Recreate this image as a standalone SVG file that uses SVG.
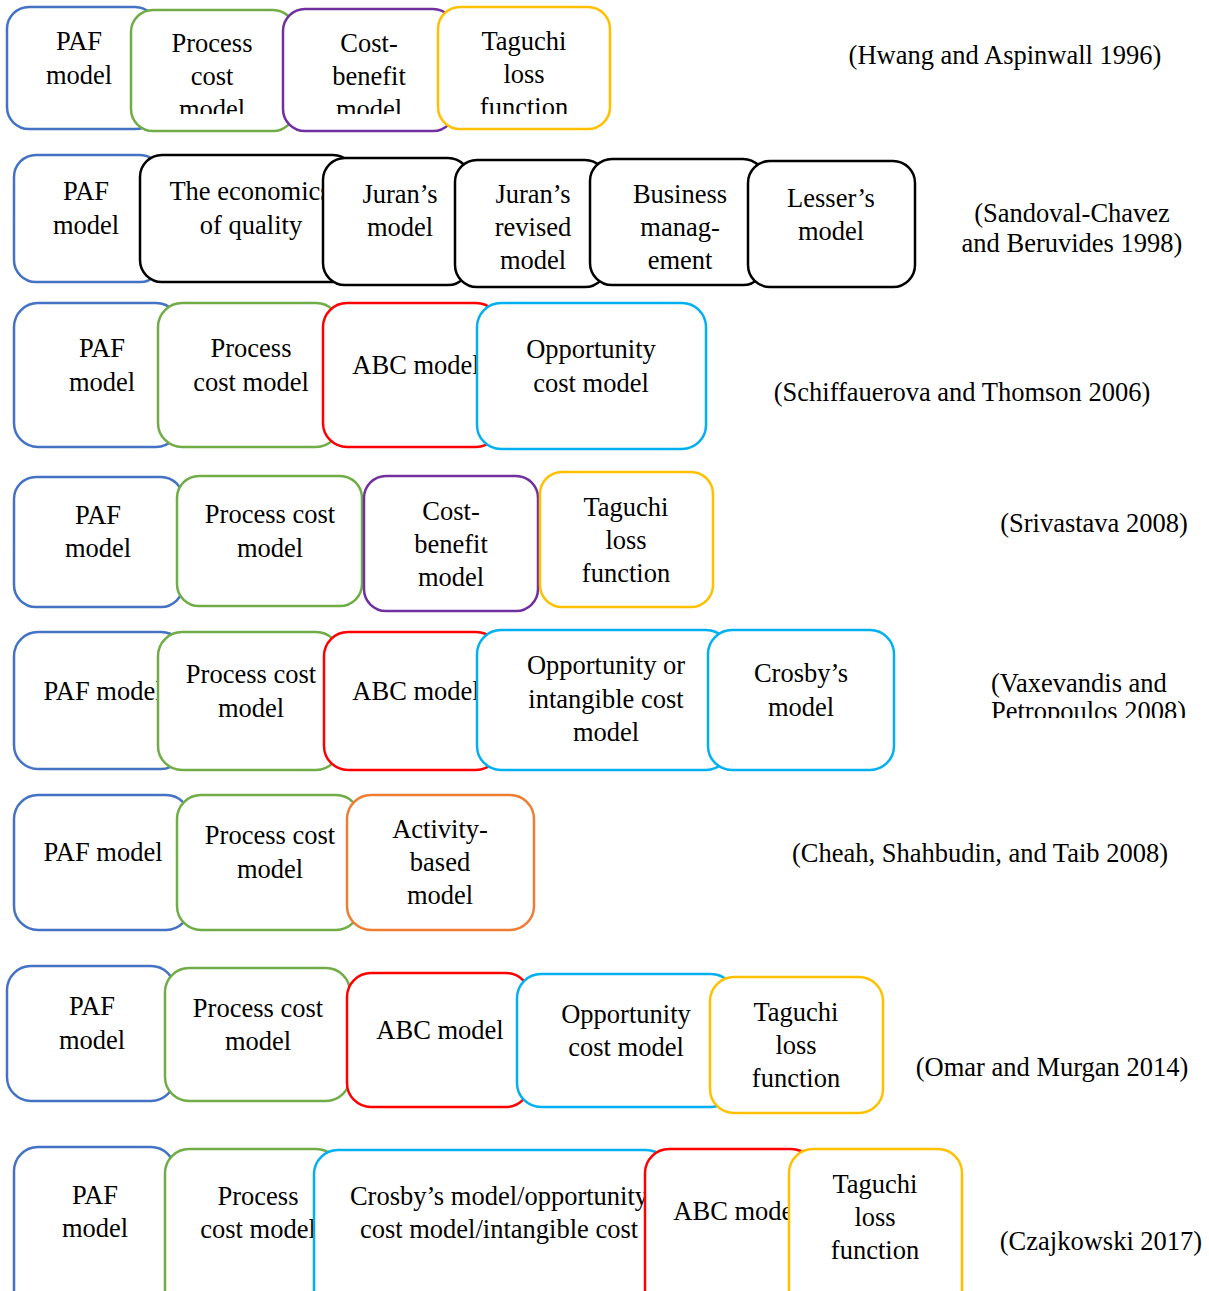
<svg xmlns="http://www.w3.org/2000/svg" width="1209" height="1291" viewBox="0 0 1209 1291">
<style>
rect{fill:#fff;stroke-width:2.5}
.b{stroke:#4472C4}.g{stroke:#70AD47}.p{stroke:#7030A0}.y{stroke:#FFC000}.r{stroke:#FF0000}.c{stroke:#00B0F0}.o{stroke:#ED7D31}.k{stroke:#000}
text{font-family:"Liberation Serif","Times New Roman",serif;font-size:26.5px;fill:#000;text-anchor:middle}
.l{text-anchor:start}
</style>
<defs>
<clipPath id="c1"><rect x="0" y="0" width="1209" height="114" style="stroke:none"/></clipPath>
<clipPath id="cv"><rect x="900" y="660" width="309" height="58" style="stroke:none"/></clipPath>
</defs>
<g id="connectors"/>
<!-- Row 1 -->
<g id="r1-paf"><rect class="b" x="7" y="7" width="150" height="122" rx="22"/><text x="79" y="50">PAF</text><text x="79" y="84">model</text></g>
<g id="r1-process"><rect class="g" x="131" y="10" width="164" height="121" rx="22"/><g clip-path="url(#c1)"><text x="212" y="52">Process</text><text x="212" y="85">cost</text><text x="212" y="118">model</text></g></g>
<g id="r1-costbenefit"><rect class="p" x="283" y="9" width="172" height="122" rx="22"/><g clip-path="url(#c1)"><text x="369" y="52">Cost-</text><text x="369" y="85">benefit</text><text x="369" y="118">model</text></g></g>
<g id="r1-taguchi"><rect class="y" x="438" y="7" width="172" height="122" rx="22"/><g clip-path="url(#c1)"><text x="524" y="50">Taguchi</text><text x="524" y="83">loss</text><text x="524" y="116">function</text></g></g>
<g id="r1-ref"><text x="1005" y="64">(Hwang and Aspinwall 1996)</text></g>
<!-- Row 2 -->
<g id="r2-paf"><rect class="b" x="14" y="155" width="148" height="127" rx="22"/><text x="86" y="200">PAF</text><text x="86" y="234">model</text></g>
<g id="r2-econ"><rect class="k" x="140" y="155" width="215" height="127" rx="22"/><text x="250" y="200">The economics</text><text x="251" y="234">of quality</text></g>
<g id="r2-juran"><rect class="k" x="323" y="158" width="147" height="127" rx="22"/><text x="400" y="203">Juran’s</text><text x="400" y="236">model</text></g>
<g id="r2-juranrev"><rect class="k" x="455" y="160" width="152" height="127" rx="22"/><text x="533" y="203">Juran’s</text><text x="533" y="236">revised</text><text x="533" y="269">model</text></g>
<g id="r2-business"><rect class="k" x="590" y="159" width="175" height="126" rx="22"/><text x="680" y="203">Business</text><text x="680" y="236">manag-</text><text x="680" y="269">ement</text></g>
<g id="r2-lesser"><rect class="k" x="748" y="161" width="167" height="126" rx="22"/><text x="831" y="207">Lesser’s</text><text x="831" y="240">model</text></g>
<g id="r2-ref"><text x="1072" y="222">(Sandoval-Chavez</text><text x="1072" y="252">and Beruvides 1998)</text></g>
<!-- Row 3 -->
<g id="r3-paf"><rect class="b" x="14" y="303" width="166" height="144" rx="24"/><text x="102" y="357">PAF</text><text x="102" y="391">model</text></g>
<g id="r3-process"><rect class="g" x="158" y="303" width="182" height="144" rx="24"/><text x="251" y="357">Process</text><text x="251" y="391">cost model</text></g>
<g id="r3-abc"><rect class="r" x="323" y="303" width="177" height="144" rx="24"/><text x="416" y="374">ABC model</text></g>
<g id="r3-opp"><rect class="c" x="477" y="303" width="229" height="146" rx="24"/><text x="591" y="358">Opportunity</text><text x="591" y="392">cost model</text></g>
<g id="r3-ref"><text x="962" y="401">(Schiffauerova and Thomson 2006)</text></g>
<!-- Row 4 -->
<g id="r4-paf"><rect class="b" x="14" y="477" width="169" height="130" rx="22"/><text x="98" y="524">PAF</text><text x="98" y="557">model</text></g>
<g id="r4-process"><rect class="g" x="177" y="476" width="185" height="130" rx="22"/><text x="270" y="523">Process cost</text><text x="270" y="557">model</text></g>
<g id="r4-costbenefit"><rect class="p" x="364" y="476" width="174" height="135" rx="22"/><text x="451" y="520">Cost-</text><text x="451" y="553">benefit</text><text x="451" y="586">model</text></g>
<g id="r4-taguchi"><rect class="y" x="540" y="472" width="173" height="135" rx="22"/><text x="626" y="516">Taguchi</text><text x="626" y="549">loss</text><text x="626" y="582">function</text></g>
<g id="r4-ref"><text x="1094" y="532">(Srivastava 2008)</text></g>
<!-- Row 5 -->
<g id="r5-paf"><rect class="b" x="14" y="632" width="171" height="137" rx="24"/><text x="103" y="700">PAF model</text></g>
<g id="r5-process"><rect class="g" x="158" y="632" width="182" height="138" rx="24"/><text x="251" y="683">Process cost</text><text x="251" y="717">model</text></g>
<g id="r5-abc"><rect class="r" x="324" y="632" width="176" height="138" rx="24"/><text x="416" y="700">ABC model</text></g>
<g id="r5-opp"><rect class="c" x="477" y="630" width="253" height="140" rx="24"/><text x="606" y="674">Opportunity or</text><text x="606" y="708">intangible cost</text><text x="606" y="741">model</text></g>
<g id="r5-crosby"><rect class="c" x="708" y="630" width="186" height="140" rx="24"/><text x="801" y="682">Crosby’s</text><text x="801" y="716">model</text></g>
<g id="r5-ref" clip-path="url(#cv)"><text class="l" x="991" y="692">(Vaxevandis and</text><text class="l" x="991" y="720">Petropoulos 2008)</text></g>
<!-- Row 6 -->
<g id="r6-paf"><rect class="b" x="14" y="795" width="176" height="135" rx="24"/><text x="103" y="861">PAF model</text></g>
<g id="r6-process"><rect class="g" x="177" y="795" width="183" height="135" rx="24"/><text x="270" y="844">Process cost</text><text x="270" y="878">model</text></g>
<g id="r6-activity"><rect class="o" x="347" y="795" width="187" height="135" rx="24"/><text x="440" y="838">Activity-</text><text x="440" y="871">based</text><text x="440" y="904">model</text></g>
<g id="r6-ref"><text x="980" y="862">(Cheah, Shahbudin, and Taib 2008)</text></g>
<!-- Row 7 -->
<g id="r7-paf"><rect class="b" x="7" y="966" width="168" height="135" rx="24"/><text x="92" y="1015">PAF</text><text x="92" y="1049">model</text></g>
<g id="r7-process"><rect class="g" x="165" y="968" width="185" height="133" rx="24"/><text x="258" y="1017">Process cost</text><text x="258" y="1050">model</text></g>
<g id="r7-abc"><rect class="r" x="347" y="973" width="183" height="134" rx="24"/><text x="440" y="1039">ABC model</text></g>
<g id="r7-opp"><rect class="c" x="517" y="974" width="218" height="133" rx="24"/><text x="626" y="1023">Opportunity</text><text x="626" y="1056">cost model</text></g>
<g id="r7-taguchi"><rect class="y" x="710" y="977" width="173" height="136" rx="24"/><text x="796" y="1021">Taguchi</text><text x="796" y="1054">loss</text><text x="796" y="1087">function</text></g>
<g id="r7-ref"><text x="1052" y="1076">(Omar and Murgan 2014)</text></g>
<!-- Row 8 -->
<g id="r8-paf"><rect class="b" x="14" y="1147" width="161" height="170" rx="24"/><text x="95" y="1204">PAF</text><text x="95" y="1237">model</text></g>
<g id="r8-process"><rect class="g" x="165" y="1149" width="175" height="170" rx="24"/><text x="258" y="1205">Process</text><text x="258" y="1238">cost model</text></g>
<g id="r8-crosby"><rect class="c" x="314" y="1150" width="356" height="170" rx="24"/><text x="499" y="1205">Crosby’s model/opportunity</text><text x="499" y="1238">cost model/intangible cost</text></g>
<g id="r8-abc"><rect class="r" x="645" y="1149" width="170" height="170" rx="24"/><text x="737" y="1220">ABC model</text></g>
<g id="r8-taguchi"><rect class="y" x="789" y="1149" width="173" height="170" rx="24"/><text x="875" y="1193">Taguchi</text><text x="875" y="1226">loss</text><text x="875" y="1259">function</text></g>
<g id="r8-ref"><text x="1101" y="1250">(Czajkowski 2017)</text></g>
</svg>
